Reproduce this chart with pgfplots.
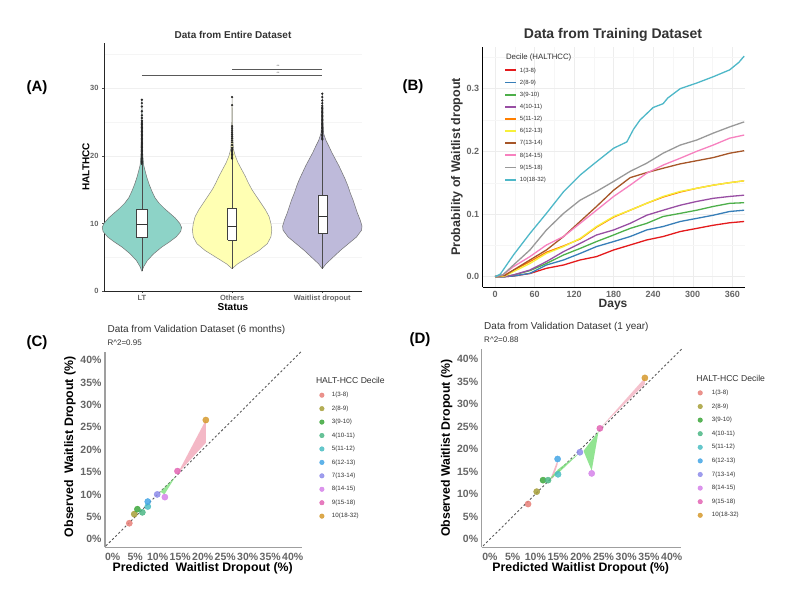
\documentclass[border=0pt]{standalone}
\usepackage{fontspec}
\setmainfont{Liberation Sans}
\usepackage{pgfplots}
\usepackage{pgfplotstable}
\pgfplotsset{compat=1.18}

\definecolor{vA}{HTML}{8DD3C7}
\definecolor{vB}{HTML}{FFFFB3}
\definecolor{vC}{HTML}{BEBADA}
\definecolor{k1}{HTML}{E41A1C}
\definecolor{k2}{HTML}{377EB8}
\definecolor{k3}{HTML}{4DAF4A}
\definecolor{k4}{HTML}{984EA3}
\definecolor{k5}{HTML}{FF7F00}
\definecolor{k6}{HTML}{F7F03A}
\definecolor{k7}{HTML}{A65628}
\definecolor{k8}{HTML}{F781BF}
\definecolor{k9}{HTML}{999999}
\definecolor{k10}{HTML}{4EB8C8}
\definecolor{d1}{HTML}{E8817A}
\definecolor{d2}{HTML}{A8A03A}
\definecolor{d3}{HTML}{3EA83C}
\definecolor{d4}{HTML}{4DB886}
\definecolor{d5}{HTML}{4DBFC4}
\definecolor{d6}{HTML}{45A6E6}
\definecolor{d7}{HTML}{8E8CEB}
\definecolor{d8}{HTML}{D683EA}
\definecolor{d9}{HTML}{E366B4}
\definecolor{d10}{HTML}{D69A2E}
\definecolor{txt}{HTML}{333333}
\definecolor{tk}{HTML}{666666}
\definecolor{ribpink}{HTML}{F2A7B8}
\definecolor{ribgreen}{HTML}{7FE07F}

% violin outlines: y and signed half-width s (left side going up, right side going down)
\pgfplotstableread{
y s
2.9 0
3.6 -0.02
4.5 -0.06
5.5 -0.13
6.5 -0.22
7.3 -0.31
8.0 -0.38
8.8 -0.43
9.4 -0.44
10.0 -0.42
10.8 -0.37
11.5 -0.31
12.2 -0.25
13.0 -0.19
13.8 -0.145
14.8 -0.11
15.8 -0.08
16.8 -0.055
17.8 -0.035
18.6 -0.02
20.0 -0.01
23.0 -0.005
28.3 0
23.0 0.005
20.0 0.01
18.6 0.02
17.8 0.035
16.8 0.055
15.8 0.08
14.8 0.11
13.8 0.145
13.0 0.19
12.2 0.25
11.5 0.31
10.8 0.37
10.0 0.42
9.4 0.44
8.8 0.43
8.0 0.38
7.3 0.31
6.5 0.22
5.5 0.13
4.5 0.06
3.6 0.02
2.9 0
}\violinLT

\pgfplotstableread{
y s
3.3 0
4.0 -0.06
5.0 -0.18
6.0 -0.30
7.0 -0.39
8.0 -0.43
9.0 -0.44
10.0 -0.43
11.0 -0.41
12.0 -0.37
13.0 -0.32
14.0 -0.27
15.0 -0.22
16.0 -0.18
17.0 -0.145
18.0 -0.105
19.0 -0.065
20.0 -0.035
21.0 -0.015
23.0 -0.006
28.7 0
23.0 0.006
21.0 0.015
20.0 0.035
19.0 0.065
18.0 0.105
17.0 0.145
16.0 0.18
15.0 0.22
14.0 0.27
13.0 0.32
12.0 0.37
11.0 0.41
10.0 0.43
9.0 0.44
8.0 0.43
7.0 0.39
6.0 0.30
5.0 0.18
4.0 0.06
3.3 0
}\violinOT

\pgfplotstableread{
y s
3.3 0
4.0 -0.04
5.0 -0.12
6.0 -0.20
7.0 -0.29
8.0 -0.38
9.0 -0.435
9.6 -0.44
10.5 -0.42
11.5 -0.39
12.5 -0.365
13.5 -0.34
14.5 -0.31
15.5 -0.285
16.5 -0.255
17.5 -0.22
18.5 -0.185
19.5 -0.145
20.5 -0.105
21.5 -0.07
22.3 -0.04
23.3 -0.015
25.0 -0.006
29.2 0
25.0 0.006
23.3 0.015
22.3 0.04
21.5 0.07
20.5 0.105
19.5 0.145
18.5 0.185
17.5 0.22
16.5 0.255
15.5 0.285
14.5 0.31
13.5 0.34
12.5 0.365
11.5 0.39
10.5 0.42
9.6 0.44
9.0 0.435
8.0 0.38
7.0 0.29
6.0 0.20
5.0 0.12
4.0 0.04
3.3 0
}\violinWD

\pgfplotstableread{
y
18.8
19.0
19.2
19.4
19.6
19.8
20.0
20.2
20.4
20.6
20.8
21.0
21.2
21.4
21.6
21.8
22.0
22.2
22.4
22.6
22.8
23.0
23.2
23.4
23.6
23.8
24.0
24.2
24.4
24.6
24.8
25.0
25.2
25.6
26.0
26.6
27.3
27.8
28.3
}\outLT

\pgfplotstableread{
y
19.6
19.8
20.0
20.2
20.4
20.6
20.8
21.0
21.2
21.6
22.0
22.3
22.6
22.9
23.2
23.5
23.8
24.1
24.4
27.5
28.7
}\outOT

\pgfplotstableread{
y
22.4
22.6
22.8
23.0
23.2
23.4
23.6
23.8
24.0
24.2
24.4
24.6
24.8
25.0
25.2
25.4
25.6
25.8
26.0
26.2
26.4
26.6
26.8
27.0
27.2
27.4
27.8
28.2
28.7
29.2
}\outWD

\begin{document}
\begin{tikzpicture}
\path[use as bounding box] (0,0) rectangle (800pt,602pt);
\fill[white] (0,0) rectangle (800pt,602pt);

% ---------------- Panel A ----------------
\begin{axis}[
  at={(104pt,311pt)}, anchor=south west, scale only axis,
  width=258pt, height=248pt,
  xmin=0.58, xmax=3.44, ymin=0, ymax=36.7,
  axis x line=bottom, axis y line=left,
  axis line style={-, black!85, line width=0.9pt},
  xtick={1,2,3}, xticklabels={LT,Others,Waitlist dropout},
  ytick={0,10,20,30}, minor ytick={5,15,25,35},
  ymajorgrids, yminorgrids,
  major grid style={gray!12, line width=0.4pt},
  minor grid style={gray!8, line width=0.3pt},
  tick style={black!70, line width=0.5pt},
  major tick length=2pt, minor tick length=0pt, tick align=outside,
  ticklabel style={font=\fontsize{7.5}{8}\selectfont\bfseries, text=tk},
  xticklabel style={yshift=1.5pt},
  /pgf/number format/assume math mode=true,
  clip=false,
]
\addplot[fill=vA, draw=black!55, line width=0.5pt] table[x expr=1+\thisrow{s}, y=y]{\violinLT};
\addplot[fill=vB, draw=black!45, line width=0.5pt] table[x expr=2+\thisrow{s}, y=y]{\violinOT};
\addplot[fill=vC, draw=black!55, line width=0.5pt] table[x expr=3+\thisrow{s}, y=y]{\violinWD};
% whiskers
\addplot[black!70, line width=0.5pt] coordinates {(1,2.9) (1,7.9)};
\addplot[black!70, line width=0.5pt] coordinates {(1,12.1) (1,18.6)};
\addplot[black!70, line width=0.5pt] coordinates {(2,3.3) (2,7.5)};
\addplot[black!70, line width=0.5pt] coordinates {(2,12.2) (2,19.5)};
\addplot[black!70, line width=0.5pt] coordinates {(3,3.3) (3,8.6)};
\addplot[black!70, line width=0.5pt] coordinates {(3,14.1) (3,22.3)};
% boxes
\addplot[fill=white, draw=black!75, line width=0.5pt] coordinates {(0.94,7.9) (1.06,7.9) (1.06,12.1) (0.94,12.1) (0.94,7.9)};
\addplot[black!80, line width=0.7pt] coordinates {(0.94,9.8) (1.06,9.8)};
\addplot[fill=white, draw=black!75, line width=0.5pt] coordinates {(1.95,7.5) (2.05,7.5) (2.05,12.2) (1.95,12.2) (1.95,7.5)};
\addplot[black!80, line width=0.7pt] coordinates {(1.95,9.5) (2.05,9.5)};
\addplot[fill=white, draw=black!75, line width=0.5pt] coordinates {(2.95,8.6) (3.05,8.6) (3.05,14.1) (2.95,14.1) (2.95,8.6)};
\addplot[black!80, line width=0.7pt] coordinates {(2.95,11.1) (3.05,11.1)};
% outliers
\addplot[only marks, mark=*, mark size=0.9pt, black!85] table[x expr=1, y=y]{\outLT};
\addplot[only marks, mark=*, mark size=0.9pt, black!85] table[x expr=2, y=y]{\outOT};
\addplot[only marks, mark=*, mark size=0.9pt, black!85] table[x expr=3, y=y]{\outWD};
% significance bars
\addplot[black!65, line width=1pt] coordinates {(1,31.85) (3,31.85)};
\addplot[black!65, line width=1pt] coordinates {(2,32.8) (3,32.8)};
\node[font=\fontsize{3.5}{4}\selectfont, text=black!70] at (axis cs:2.51,32.25) {**};
\node[font=\fontsize{3.5}{4}\selectfont, text=black!70] at (axis cs:2.51,33.2) {**};
\end{axis}
\node[font=\fontsize{10}{11}\selectfont\bfseries, text=txt] at (233pt,567pt) {Data from Entire Dataset};
\node[font=\fontsize{10}{11}\selectfont\bfseries, rotate=90] at (86pt,435pt) {HALTHCC};
\node[font=\fontsize{10}{11}\selectfont\bfseries] at (233pt,294.5pt) {Status};
\node[font=\fontsize{15}{16}\selectfont\bfseries] at (37pt,514pt) {(A)};

% ---------------- Panel B ----------------
\begin{axis}[
  at={(482.7pt,314.7pt)}, anchor=south west, scale only axis,
  width=262.3pt, height=240.6pt,
  xmin=-18.7, xmax=379.3, ymin=-0.017, ymax=0.367,
  axis x line=bottom, axis y line=left,
  axis line style={-, black, line width=1.3pt},
  xtick={0,60,120,180,240,300,360}, ytick={0,0.1,0.2,0.3},
  minor xtick={30,90,150,210,270,330}, minor ytick={0.05,0.15,0.25,0.35},
  grid=both, major grid style={gray!14, line width=0.4pt},
  minor grid style={gray!7, line width=0.3pt},
  major tick length=0pt, minor tick length=0pt,
  ticklabel style={font=\fontsize{9}{10}\selectfont\bfseries, text=tk},
  yticklabel style={/pgf/number format/.cd, fixed, fixed zerofill, precision=1},
  /pgf/number format/assume math mode=true,
  legend style={at={(axis description cs:0.081,0.916)}, anchor=north west,
    draw=none, fill=none, inner sep=0pt, row sep=5.75pt, column sep=2.5pt,
    font=\fontsize{6}{6}\selectfont, text=txt,
    nodes={inner sep=0.5pt, text height=4.4pt, text depth=1pt, anchor=west}},
  legend cell align=left,
  legend image code/.code={\draw[#1, line width=1.8pt] (0pt,0pt) -- (11pt,0pt);},
]
\addplot[k1, line width=1.3pt] coordinates {(0,0) (15,0) (28,0.001) (53,0.005) (78,0.0133) (104,0.0186) (129,0.0266) (154,0.032) (180,0.0426) (205,0.0505) (230,0.0585) (255,0.064) (281,0.072) (306,0.077) (331,0.082) (356,0.086) (378,0.088)};
\addlegendentry{1(3-8)}
\addplot[k2, line width=1.3pt] coordinates {(0,0) (15,0) (28,0.001) (53,0.0053) (78,0.0186) (104,0.0266) (129,0.037) (154,0.048) (180,0.056) (205,0.064) (230,0.0745) (255,0.08) (281,0.088) (306,0.093) (331,0.098) (356,0.104) (378,0.106)};
\addlegendentry{2(8-9)}
\addplot[k3, line width=1.3pt] coordinates {(0,0) (15,0) (28,0.0027) (53,0.0096) (78,0.021) (104,0.0346) (129,0.045) (154,0.056) (180,0.0665) (205,0.077) (230,0.085) (255,0.096) (281,0.101) (306,0.106) (331,0.112) (356,0.117) (378,0.118)};
\addlegendentry{3(9-10)}
\addplot[k4, line width=1.3pt] coordinates {(0,0) (15,0) (28,0.0027) (53,0.0106) (78,0.024) (104,0.04) (129,0.053) (154,0.0665) (180,0.0745) (205,0.085) (230,0.098) (255,0.106) (281,0.114) (306,0.12) (331,0.125) (356,0.128) (378,0.13)};
\addlegendentry{4(10-11)}
\addplot[k5, line width=1.3pt] coordinates {(0,0) (12,0.001) (28,0.01) (53,0.024) (78,0.039) (104,0.049) (129,0.06) (154,0.079) (180,0.095) (205,0.106) (230,0.117) (255,0.127) (281,0.135) (306,0.141) (331,0.146) (356,0.15) (378,0.153)};
\addlegendentry{5(11-12)}
\addplot[k6, line width=1.3pt] coordinates {(0,0) (15,0.001) (28,0.008) (53,0.021) (78,0.037) (104,0.048) (129,0.061) (154,0.08) (180,0.096) (205,0.106) (230,0.117) (255,0.128) (281,0.136) (306,0.141) (331,0.146) (356,0.15) (378,0.153)};
\addlegendentry{6(12-13)}
\addplot[k7, line width=1.3pt] coordinates {(0,0) (15,0.002) (28,0.0106) (53,0.0266) (78,0.0426) (104,0.064) (129,0.088) (154,0.112) (180,0.138) (205,0.158) (230,0.166) (255,0.173) (281,0.18) (306,0.185) (331,0.19) (356,0.197) (378,0.201)};
\addlegendentry{7(13-14)}
\addplot[k8, line width=1.3pt] coordinates {(0,0) (12,0.003) (28,0.016) (53,0.032) (78,0.0505) (104,0.064) (129,0.085) (154,0.106) (180,0.128) (205,0.146) (230,0.165) (255,0.178) (281,0.189) (306,0.2) (331,0.21) (356,0.221) (378,0.226)};
\addlegendentry{8(14-15)}
\addplot[k9, line width=1.3pt] coordinates {(0,0) (12,0.003) (28,0.0186) (53,0.0426) (78,0.0745) (104,0.101) (129,0.122) (154,0.136) (180,0.152) (205,0.168) (230,0.181) (255,0.197) (281,0.21) (306,0.218) (331,0.229) (356,0.239) (378,0.247)};
\addlegendentry{9(15-18)}
\addplot[k10, line width=1.3pt] coordinates {(0,0) (8,0.004) (28,0.0346) (53,0.069) (78,0.101) (104,0.1356) (129,0.162) (150,0.18) (180,0.205) (200,0.215) (210,0.235) (220,0.25) (240,0.27) (255,0.276) (262,0.285) (281,0.3) (306,0.309) (331,0.319) (356,0.33) (370,0.342) (378,0.352)};
\addlegendentry{10(18-32)}
\end{axis}
\node[font=\fontsize{7.8}{8}\selectfont, text=txt, anchor=west] at (502.5pt,545pt) {Decile (HALTHCC)};
\node[font=\fontsize{14}{15}\selectfont\bfseries, text=txt] at (613pt,567pt) {Data from Training Dataset};
\node[font=\fontsize{12.5}{13}\selectfont\bfseries, rotate=90, text=txt] at (457pt,435pt) {Probability of Waitlist dropout};
\node[font=\fontsize{12}{13}\selectfont\bfseries, text=txt] at (613pt,297pt) {Days};
\node[font=\fontsize{15}{16}\selectfont\bfseries] at (413pt,515pt) {(B)};

% ---------------- Panel C ----------------
\begin{axis}[
  at={(105pt,54.7pt)}, anchor=south west, scale only axis,
  width=196.7pt, height=195.6pt,
  xmin=-1.7, xmax=42, ymin=-1.8, ymax=41.85,
  axis x line=bottom, axis y line=left,
  axis line style={-, gray!75, line width=1.2pt},
  xtick={0,5,...,40}, ytick={0,5,...,40},
  xticklabels={0\%,5\%,10\%,15\%,20\%,25\%,30\%,35\%,40\%},
  yticklabels={0\%,5\%,10\%,15\%,20\%,25\%,30\%,35\%,40\%},
  major tick length=0pt,
  ticklabel style={font=\fontsize{10.5}{11}\selectfont\bfseries, text=tk},
  xticklabel style={yshift=-2pt},
  clip=false,
  legend style={at={(axis description cs:1.09,0.795)}, anchor=north west,
    draw=none, fill=none, inner sep=0pt, row sep=7.04pt, column sep=7.2pt,
    font=\fontsize{6.2}{6.5}\selectfont, text=txt,
    nodes={inner sep=0.5pt, text height=4.4pt, text depth=1pt, anchor=west}},
  legend cell align=left,
  legend image code/.code={\draw[#1, mark size=2.3pt] plot coordinates {(0pt,0pt)};},
]
\addplot[forget plot, dash pattern=on 2.2pt off 2.2pt, black!65, line width=0.9pt] coordinates {(-1.5,-1.5) (42,42)};
\addplot[forget plot, fill=ribpink, fill opacity=0.8, draw=none] coordinates {(14.4,14.6) (20.7,26.6) (20.7,21.5) (14.4,14.6)};
\addplot[forget plot, fill=ribgreen, fill opacity=0.8, draw=none] coordinates {(10.6,10.6) (11.5,10.0) (13.9,13.9) (10.6,10.6)};
\addplot[only marks, mark=*, mark size=3.1pt, d1, opacity=0.85] coordinates {(3.7,3.57)};
\addlegendentry{1(3-8)}
\addplot[only marks, mark=*, mark size=3.1pt, d2, opacity=0.85] coordinates {(4.8,5.6)};
\addlegendentry{2(8-9)}
\addplot[only marks, mark=*, mark size=3.1pt, d3, opacity=0.85] coordinates {(5.5,6.7)};
\addlegendentry{3(9-10)}
\addplot[only marks, mark=*, mark size=3.1pt, d4, opacity=0.85] coordinates {(6.6,6.0)};
\addlegendentry{4(10-11)}
\addplot[only marks, mark=*, mark size=3.1pt, d5, opacity=0.85] coordinates {(7.8,7.3)};
\addlegendentry{5(11-12)}
\addplot[only marks, mark=*, mark size=3.1pt, d6, opacity=0.85] coordinates {(7.8,8.4)};
\addlegendentry{6(12-13)}
\addplot[only marks, mark=*, mark size=3.1pt, d7, opacity=0.85] coordinates {(9.9,10.0)};
\addlegendentry{7(13-14)}
\addplot[only marks, mark=*, mark size=3.1pt, d8, opacity=0.85] coordinates {(11.6,9.4)};
\addlegendentry{8(14-15)}
\addplot[only marks, mark=*, mark size=3.1pt, d9, opacity=0.85] coordinates {(14.4,15.2)};
\addlegendentry{9(15-18)}
\addplot[only marks, mark=*, mark size=3.1pt, d10, opacity=0.85] coordinates {(20.7,26.6)};
\addlegendentry{10(18-32)}
\end{axis}
\node[font=\fontsize{8.6}{9}\selectfont, text=txt, anchor=west] at (312.5pt,222pt) {HALT-HCC Decile};
\node[font=\fontsize{10}{11}\selectfont, text=txt, anchor=west] at (104pt,272pt) {Data from Validation Dataset (6 months)};
\node[font=\fontsize{8}{9}\selectfont, text=txt, anchor=west] at (104pt,259.3pt) {R\^{}2=0.95};
\node[font=\fontsize{12.3}{13}\selectfont\bfseries, rotate=90] at (70pt,155.3pt) {Observed\ \ Waitlist Dropout (\%)};
\node[font=\fontsize{12.3}{13}\selectfont\bfseries] at (202.7pt,33.7pt) {Predicted\ \ Waitlist Dropout (\%)};
\node[font=\fontsize{15}{16}\selectfont\bfseries] at (37pt,259.3pt) {(C)};

% ---------------- Panel D ----------------
\begin{axis}[
  at={(481.7pt,54.7pt)}, anchor=south west, scale only axis,
  width=199.3pt, height=198pt,
  xmin=-1.8, xmax=42.05, ymin=-1.8, ymax=42.15,
  axis x line=bottom, axis y line=left,
  axis line style={-, gray!75, line width=1.2pt},
  xtick={0,5,...,40}, ytick={0,5,...,40},
  xticklabels={0\%,5\%,10\%,15\%,20\%,25\%,30\%,35\%,40\%},
  yticklabels={0\%,5\%,10\%,15\%,20\%,25\%,30\%,35\%,40\%},
  major tick length=0pt,
  ticklabel style={font=\fontsize{10.5}{11}\selectfont\bfseries, text=tk},
  xticklabel style={yshift=-2pt},
  clip=false,
  legend style={at={(axis description cs:1.0838,0.797)}, anchor=north west,
    draw=none, fill=none, inner sep=0pt, row sep=7.2pt, column sep=8.9pt,
    font=\fontsize{6.2}{6.5}\selectfont, text=txt,
    nodes={inner sep=0.5pt, text height=4.4pt, text depth=1pt, anchor=west}},
  legend cell align=left,
  legend image code/.code={\draw[#1, mark size=2.3pt] plot coordinates {(0pt,0pt)};},
]
\addplot[forget plot, dash pattern=on 2.2pt off 2.2pt, black!65, line width=0.9pt] coordinates {(-1.5,-1.5) (42.2,42.2)};
\addplot[forget plot, fill=ribpink, fill opacity=0.7, draw=none] coordinates {(24.2,24.6) (34.1,35.8) (34.1,34.4) (24.2,24.6)};
\addplot[forget plot, fill=ribpink, fill opacity=0.8, draw=none] coordinates {(13.3,13.3) (14.9,17.6) (14.9,16.6) (13.9,13.6) (13.3,13.3)};
\addplot[forget plot, fill=ribgreen, fill opacity=0.85, draw=none] coordinates {(20.6,19.6) (22.4,15.2) (23.9,23.9) (20.6,19.6)};
\addplot[forget plot, fill=ribgreen, fill opacity=0.85, draw=none] coordinates {(12.7,12.9) (15.0,14.6) (19.8,19.2) (15.0,15.5) (12.7,12.9)};
\addplot[only marks, mark=*, mark size=3.1pt, d1, opacity=0.85] coordinates {(8.4,7.8)};
\addlegendentry{1(3-8)}
\addplot[only marks, mark=*, mark size=3.1pt, d2, opacity=0.85] coordinates {(10.3,10.55)};
\addlegendentry{2(8-9)}
\addplot[only marks, mark=*, mark size=3.1pt, d3, opacity=0.85] coordinates {(11.7,13.1)};
\addlegendentry{3(9-10)}
\addplot[only marks, mark=*, mark size=3.1pt, d4, opacity=0.85] coordinates {(12.8,13.1)};
\addlegendentry{4(10-11)}
\addplot[only marks, mark=*, mark size=3.1pt, d5, opacity=0.85] coordinates {(15.0,14.4)};
\addlegendentry{5(11-12)}
\addplot[only marks, mark=*, mark size=3.1pt, d6, opacity=0.85] coordinates {(14.9,17.8)};
\addlegendentry{6(12-13)}
\addplot[only marks, mark=*, mark size=3.1pt, d7, opacity=0.85] coordinates {(19.8,19.3)};
\addlegendentry{7(13-14)}
\addplot[only marks, mark=*, mark size=3.1pt, d8, opacity=0.85] coordinates {(22.4,14.6)};
\addlegendentry{8(14-15)}
\addplot[only marks, mark=*, mark size=3.1pt, d9, opacity=0.85] coordinates {(24.2,24.6)};
\addlegendentry{9(15-18)}
\addplot[only marks, mark=*, mark size=3.1pt, d10, opacity=0.85] coordinates {(34.1,35.8)};
\addlegendentry{10(18-32)}
\end{axis}
\node[font=\fontsize{8.6}{9}\selectfont, text=txt, anchor=west] at (692.8pt,223.7pt) {HALT-HCC Decile};
\node[font=\fontsize{10}{11}\selectfont, text=txt, anchor=west] at (480.7pt,275.3pt) {Data from Validation Dataset (1 year)};
\node[font=\fontsize{8}{9}\selectfont, text=txt, anchor=west] at (480.7pt,262pt) {R\^{}2=0.88};
\node[font=\fontsize{12.3}{13}\selectfont\bfseries, rotate=90] at (446.7pt,153.7pt) {Observed Waitlist Dropout (\%)};
\node[font=\fontsize{12.3}{13}\selectfont\bfseries] at (580.7pt,33.7pt) {Predicted Waitlist Dropout (\%)};
\node[font=\fontsize{15}{16}\selectfont\bfseries] at (420pt,262.7pt) {(D)};
\end{tikzpicture}
\end{document}
